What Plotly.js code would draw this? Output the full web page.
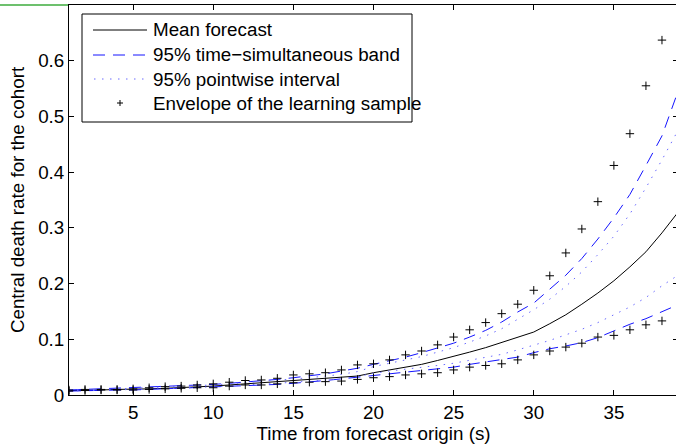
<!DOCTYPE html>
<html>
<head>
<meta charset="utf-8">
<script src="https://cdn.plot.ly/plotly-3.0.1.min.js"></script>
<style>
  html, body { margin: 0; padding: 0; overflow: hidden; background: #fff; }
  #chart { width: 680px; height: 444px; }
</style>
</head>
<body>
<div id="chart"></div>
<script>
// ---- data ----
const timeSteps = [1,2,3,4,5,6,7,8,9,10,11,12,13,14,15,16,17,18,19,20,21,22,23,24,25,26,27,28,29,30,31,32,33,34,35,36,37,38,39];
const meanForecast = [0.008,0.008,0.009,0.010,0.010,0.011,0.012,0.013,0.014,0.016,
  0.018,0.020,0.022,0.024,0.025,0.027,0.029,0.031,0.034,0.040,
  0.045,0.050,0.055,0.062,0.069,0.077,0.085,0.094,0.103,0.113,
  0.128,0.144,0.163,0.183,0.205,0.230,0.257,0.291,0.328];
const simBandUpper = [0.009,0.010,0.011,0.012,0.013,0.014,0.015,0.016,0.017,0.019,
  0.021,0.023,0.025,0.028,0.031,0.034,0.038,0.043,0.048,0.055,
  0.061,0.068,0.076,0.085,0.093,0.104,0.116,0.131,0.149,0.165,
  0.190,0.215,0.245,0.280,0.318,0.360,0.412,0.465,0.545];
const simBandLower = [0.007,0.008,0.008,0.009,0.009,0.010,0.011,0.012,0.013,0.014,
  0.015,0.016,0.018,0.019,0.021,0.023,0.026,0.029,0.032,0.036,
  0.039,0.041,0.044,0.047,0.050,0.055,0.059,0.063,0.068,0.076,
  0.083,0.088,0.094,0.103,0.115,0.127,0.137,0.150,0.162];
const pointUpper = [0.009,0.009,0.010,0.011,0.012,0.013,0.014,0.015,0.016,0.018,
  0.020,0.022,0.024,0.026,0.028,0.031,0.034,0.037,0.042,0.051,
  0.057,0.063,0.069,0.077,0.085,0.095,0.106,0.119,0.136,0.153,
  0.172,0.195,0.221,0.252,0.285,0.325,0.372,0.422,0.475];
const pointLower = [0.007,0.008,0.008,0.009,0.010,0.010,0.011,0.012,0.013,0.015,
  0.016,0.018,0.019,0.021,0.023,0.025,0.027,0.029,0.033,0.039,
  0.043,0.046,0.049,0.053,0.057,0.062,0.067,0.073,0.081,0.089,
  0.098,0.108,0.118,0.130,0.144,0.158,0.175,0.196,0.215];
const envTime = [1,2,3,4,5,6,7,8,9,10,11,12,13,14,15,16,17,18,19,20,21,22,23,24,25,26,27,28,29,30,31,32,33,34,35,36,37,38];
const envUpper = [0.009,0.010,0.010,0.010,0.011,0.013,0.015,0.016,0.018,0.020,
  0.023,0.026,0.027,0.030,0.036,0.038,0.040,0.045,0.054,0.056,
  0.063,0.072,0.079,0.090,0.104,0.117,0.130,0.146,0.163,0.188,
  0.214,0.255,0.298,0.347,0.412,0.469,0.555,0.637];
const envLower = [0.007,0.008,0.009,0.009,0.009,0.010,0.011,0.012,0.013,0.013,
  0.016,0.018,0.018,0.020,0.022,0.023,0.024,0.025,0.028,0.031,
  0.033,0.036,0.038,0.040,0.045,0.050,0.053,0.056,0.063,0.072,
  0.079,0.086,0.093,0.104,0.107,0.117,0.126,0.133];
const legendLabels = ["Mean forecast", "95% time\u2212simultaneous band", "95% pointwise interval", "Envelope of the learning sample"];
const xTicks = [5,10,15,20,25,30,35];
const yTicks = [0,0.1,0.2,0.3,0.4,0.5,0.6];

// ---- styles ----
const FONT = "Liberation Sans, Arial, Helvetica, sans-serif";
const FS = 18.8;
const dashStyle = {color: "#1414ff", width: 1, dash: "12px,8px"};
const dotStyle = {color: "#6b6bff", width: 1, dash: "1.5px,6.5px"};
const meanStyle = {color: "#000000", width: 1};
const crossMarker = {symbol: "cross-thin", size: 6, line: {color: "#000", width: 1}};

const traces = [
  {x: timeSteps, y: meanForecast, mode: "lines", line: meanStyle, name: legendLabels[0], showlegend: false},
  {x: timeSteps, y: simBandUpper, mode: "lines", line: dashStyle, name: legendLabels[1], showlegend: false},
  {x: timeSteps, y: simBandLower, mode: "lines", line: dashStyle, name: legendLabels[1], showlegend: false},
  {x: timeSteps, y: pointUpper, mode: "lines", line: dotStyle, name: legendLabels[2], showlegend: false},
  {x: timeSteps, y: pointLower, mode: "lines", line: dotStyle, name: legendLabels[2], showlegend: false},
  {x: envTime, y: envUpper, mode: "markers", name: legendLabels[3], showlegend: false, marker: crossMarker},
  {x: envTime, y: envLower, mode: "markers", name: legendLabels[3], showlegend: false, marker: crossMarker}
];

// ---- manual legend (pixel -> paper helpers) ----
const L = 69, PW = 609, T = 5, PH = 390;
const px = v => (v - L) / PW;
const py = v => (T + PH - v) / PH;
const rows = [30, 55, 79, 103];
const shapes = [
  {type: "rect", xref: "paper", yref: "paper", x0: px(82), x1: px(412), y0: py(122), y1: py(14),
   line: {color: "#000", width: 1}, fillcolor: "#fff", layer: "above"},
  {type: "line", xref: "paper", yref: "paper", x0: px(93), x1: px(147), y0: py(rows[0]), y1: py(rows[0]), line: meanStyle, layer: "above"},
  {type: "line", xref: "paper", yref: "paper", x0: px(93), x1: px(147), y0: py(rows[1]), y1: py(rows[1]), line: dashStyle, layer: "above"},
  {type: "line", xref: "paper", yref: "paper", x0: px(94), x1: px(147), y0: py(rows[2]), y1: py(rows[2]), line: dotStyle, layer: "above"},
  {type: "line", xref: "paper", yref: "paper", x0: px(117), x1: px(123), y0: py(rows[3]), y1: py(rows[3]), line: {color: "#000", width: 1}, layer: "above"},
  {type: "line", xref: "paper", yref: "paper", x0: px(120), x1: px(120), y0: py(rows[3] - 3), y1: py(rows[3] + 3), line: {color: "#000", width: 1}, layer: "above"},
  // green stroke at the top-left corner of the original figure
  {type: "line", xref: "paper", yref: "paper", x0: px(0), x1: px(68), y0: 1, y1: 1, line: {color: "#3cab3c", width: 1.5}}
];
const annotations = legendLabels.map((t, i) => ({
  text: t, xref: "paper", yref: "paper", x: px(151), y: py(rows[i]), xanchor: "left", yanchor: "middle",
  showarrow: false, font: {family: FONT, size: FS, color: "#000"}
}));

const layout = {
  width: 680, height: 444,
  margin: {l: L, r: 680 - L - PW, t: T, b: 444 - T - PH},
  paper_bgcolor: "#fff", plot_bgcolor: "#fff",
  font: {family: FONT, size: FS, color: "#000"},
  showlegend: false,
  xaxis: {
    range: [1, 39], tickvals: xTicks, ticks: "inside", ticklen: 5, tickcolor: "#000",
    showline: true, linecolor: "#000", linewidth: 1, mirror: "ticks", showgrid: false, zeroline: false,
    tickfont: {family: FONT, size: FS},
    title: {text: "Time from forecast origin (s)", font: {family: FONT, size: FS}, standoff: 3}
  },
  yaxis: {
    range: [0, 0.7], tickvals: yTicks, ticktext: ["0","0.1","0.2","0.3","0.4","0.5","0.6"],
    ticks: "inside", ticklen: 5, tickcolor: "#000",
    showline: true, linecolor: "#000", linewidth: 1, mirror: "ticks", showgrid: false, zeroline: false,
    tickfont: {family: FONT, size: FS},
    title: {text: "Central death rate for the cohort", font: {family: FONT, size: FS}, standoff: 8}
  },
  shapes: shapes,
  annotations: annotations
};

Plotly.newPlot("chart", traces, layout, {staticPlot: true, displayModeBar: false});
</script>
</body>
</html>
